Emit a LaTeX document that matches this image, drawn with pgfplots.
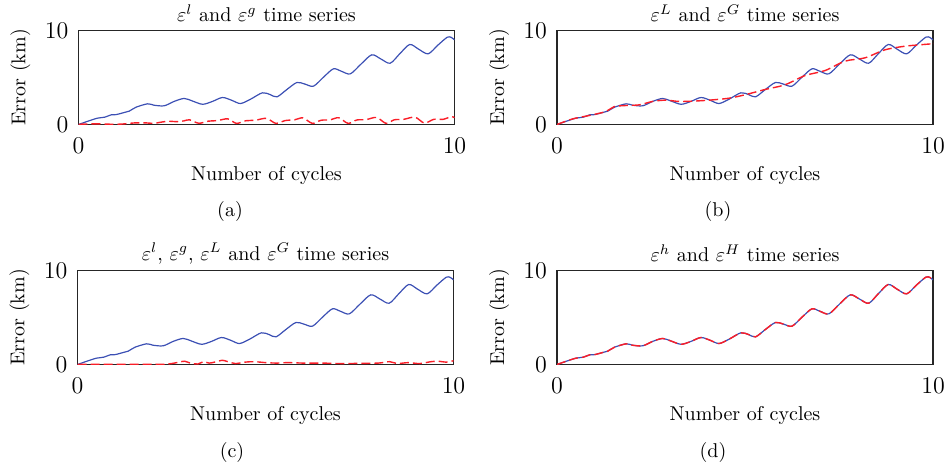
\documentclass[border=0pt]{standalone}
\usepackage{pgfplots}
\pgfplotsset{compat=1.18}
\usepackage{pgfplotstable}
\definecolor{myblue}{RGB}{60,80,180}
\definecolor{myred}{RGB}{250,30,40}

\pgfplotstableread{
x y
0 0
0.25 0.35
0.5 0.67
0.7 0.78
0.87 1.03
1.0 1.05
1.22 1.28
1.35 1.42
1.53 1.84
1.84 2.2
2.01 2.05
2.28 1.99
2.54 2.45
2.81 2.77
3.03 2.5
3.30 2.15
3.56 2.45
3.83 2.87
4.09 2.55
4.31 2.23
4.58 2.70
4.89 3.37
5.10 3.18
5.28 2.94
5.55 3.75
5.81 4.47
6.02 4.30
6.25 4.08
6.52 5.05
6.78 5.92
7.0 5.65
7.23 5.39
7.52 6.45
7.80 7.41
8.05 6.95
8.29 6.52
8.55 7.55
8.81 8.51
9.05 8.00
9.30 7.52
9.56 8.45
9.81 9.29
9.92 9.25
10 9.0
}\blueseries

\pgfplotstableread{
x y
0 0.02
0.3 0.06
0.6 0.06
0.95 0.02
1.2 0.06
1.5 0.17
1.8 0.17
2.0 0.12
2.2 0.25
2.4 0.35
2.6 0.3
2.8 0.38
2.95 0.5
3.2 0.13
3.45 0.35
3.7 0.42
3.97 0.6
4.2 0.12
4.45 0.4
4.7 0.45
5.0 0.65
5.25 0.12
5.5 0.42
5.75 0.5
5.97 0.7
6.22 0.12
6.45 0.45
6.7 0.5
6.92 0.72
7.17 0.12
7.4 0.48
7.65 0.52
7.93 0.75
8.18 0.12
8.4 0.5
8.65 0.55
8.95 0.78
9.2 0.15
9.45 0.55
9.7 0.55
9.92 0.85
10 0.7
}\reda

\pgfplotstableread{
x y
0 0
0.42 0.6
0.86 0.96
1.3 1.38
1.52 1.9
1.84 2.02
2.19 2.09
2.54 2.45
2.90 2.59
3.25 2.45
3.70 2.5
4.14 2.62
4.58 2.8
5.0 3.16
5.53 3.72
6.06 4.22
6.6 5.21
7.13 5.74
7.66 6.74
8.19 7.09
8.72 7.94
9.26 8.33
9.96 8.58
10 8.6
}\redb

\pgfplotstableread{
x y
0 0.02
1.0 0.02
2.2 0.02
2.5 0.1
2.7 0.25
2.85 0.35
3.0 0.15
3.2 0.05
3.35 0.3
3.5 0.15
3.7 0.3
3.85 0.45
4.0 0.3
4.2 0.1
4.45 0.25
4.7 0.3
5.0 0.2
5.3 0.15
5.6 0.2
6.0 0.15
6.5 0.15
7.0 0.1
7.5 0.12
8.0 0.15
8.3 0.3
8.5 0.1
8.8 0.2
9.1 0.1
9.4 0.3
9.6 0.35
9.8 0.25
10 0.4
}\redc

\pgfplotsset{
  panel/.style={
    width=188pt, height=47pt, scale only axis,
    xmin=0, xmax=10, ymin=0, ymax=10,
    xtick={0,10}, ytick={0,10},
    major tick length=0pt,
    axis line style={line width=0.8pt, draw=black!85},
    ylabel={Error (km)},
    xlabel={Number of cycles},
    every axis y label/.style={at={(axis description cs:0,0.5)}, rotate=90, anchor=center, yshift=29pt},
    every axis x label/.style={at={(axis description cs:0.5,0)}, anchor=center, yshift=-25.5pt},
    every axis title/.style={at={(axis description cs:0.5,1)}, anchor=center, yshift=8.5pt},
    xticklabel style={yshift=-3pt},
    yticklabel style={xshift=-1.5pt},
    tick label style={font=\large},
    clip=true,
  },
  bl/.style={myblue, line width=0.6pt, smooth, tension=0.5, no marks},
  rd/.style={myred, line width=0.7pt, dash pattern=on 4.5pt off 2pt, smooth, tension=0.5, no marks},
}

\begin{document}
\begin{tikzpicture}
\useasboundingbox (0,0) rectangle (472.5pt,235pt);

\begin{axis}[panel, at={(39.25pt,172.75pt)}, anchor=south west,
  title={$\varepsilon^{l}$ and $\varepsilon^{g}$ time series}]
\addplot[bl] table[x=x,y=y] {\blueseries};
\addplot[rd] table[x=x,y=y] {\reda};
\end{axis}

\begin{axis}[panel, at={(278.5pt,172.75pt)}, anchor=south west,
  title={$\varepsilon^{L}$ and $\varepsilon^{G}$ time series}]
\addplot[bl] table[x=x,y=y] {\blueseries};
\addplot[rd] table[x=x,y=y] {\redb};
\end{axis}

\begin{axis}[panel, at={(38.75pt,52.75pt)}, anchor=south west,
  title={$\varepsilon^{l}$, $\varepsilon^{g}$, $\varepsilon^{L}$ and $\varepsilon^{G}$ time series}]
\addplot[bl] table[x=x,y=y] {\blueseries};
\addplot[rd] table[x=x,y=y] {\redc};
\end{axis}

\begin{axis}[panel, at={(278.5pt,52.75pt)}, anchor=south west,
  title={$\varepsilon^{h}$ and $\varepsilon^{H}$ time series}]
\addplot[bl] table[x=x,y=y] {\blueseries};
\addplot[rd] table[x=x,y=y] {\blueseries};
\end{axis}

\node at (115pt,129pt) {(a)};
\node at (359pt,129pt) {(b)};
\node at (116pt,8.5pt) {(c)};
\node at (356.5pt,8.5pt) {(d)};
\end{tikzpicture}
\end{document}
